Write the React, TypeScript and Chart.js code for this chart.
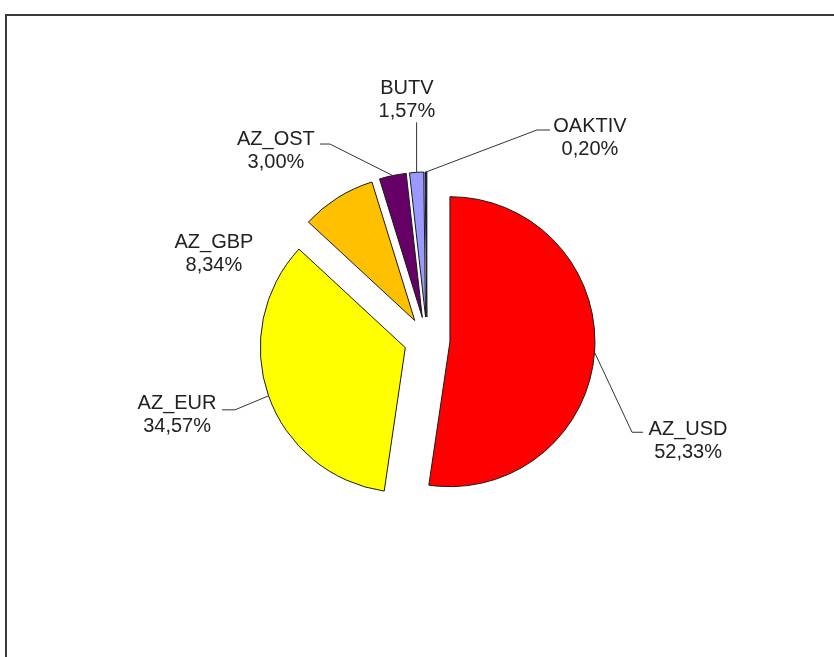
import React, { useEffect, useRef } from 'react';
import { Chart, registerables } from 'chart.js';

Chart.register(...registerables);

// ---- data ----
const categories = ['AZ_USD', 'AZ_EUR', 'AZ_GBP', 'AZ_OST', 'BUTV', 'OAKTIV'];
const shares = [52.33, 34.57, 8.34, 3.0, 1.57, 0.2];
const sliceColors = ['#FF0000', '#FFFF00', '#FFC000', '#660066', '#9999FF', '#000080'];

// ---- geometry / style ----
const RADIUS = 145;
const EXPLODE = 23; // px each slice is pulled out
const FONT = '20px "Liberation Sans", Arial, sans-serif';
const LINE_H = 23;

// label placement relative to each slice's outer mid-point: text centre x, first baseline y,
// and leader-line points (empty = no leader)
const labelLayout: { tx: number; ty: number; leader: number[][] }[] = [
  { tx: 93.5, ty: 83, leader: [[37.5, 80], [48.5, 80]] },
  { tx: -91.5, ty: 13, leader: [[-33.5, 14], [-46.5, 14]] },
  { tx: -123.6, ty: 50, leader: [] },
  { tx: -116.8, ty: -30.5, leader: [[-62.8, -31.5], [-72.8, -31.5]] },
  { tx: -9.7, ty: -78.5, leader: [[0, -50]] },
  { tx: 164, ty: -40, leader: [[111, -42], [124, -42]] },
];

const fmt = (v: number) => v.toFixed(2).replace('.', ',') + '%';

// Keep every exploded slice at the same radius and full angular width
// (Chart.js grows the radius and trims the angle of offset arcs).
const explodeFix = {
  id: 'explodeFix',
  afterDatasetsUpdate(chart: any) {
    const meta = chart.getDatasetMeta(0);
    meta.data.forEach((arc: any) => {
      const fix = 1 - Math.sin(Math.min(Math.PI, arc.circumference || 0));
      const radiusOffset = EXPLODE * fix;
      arc.outerRadius = RADIUS - radiusOffset;
      const trim = radiusOffset / (2 * Math.PI * RADIUS);
      arc.startAngle = arc.startAngle - trim;
      arc.endAngle = arc.endAngle + trim;
    });
  },
};

const pieLabels = {
  id: 'pieLabels',
  afterDatasetsDraw(chart: any) {
    const ctx = chart.ctx as CanvasRenderingContext2D;
    const meta = chart.getDatasetMeta(0);
    ctx.save();
    ctx.font = FONT;
    ctx.textAlign = 'center';
    ctx.textBaseline = 'alphabetic';
    meta.data.forEach((arc: any, i: number) => {
      const mid = (arc.startAngle + arc.endAngle) / 2;
      const ax = arc.x + Math.cos(mid) * (RADIUS + EXPLODE);
      const ay = arc.y + Math.sin(mid) * (RADIUS + EXPLODE);
      const lay = labelLayout[i];
      if (lay.leader.length) {
        ctx.strokeStyle = '#333333';
        ctx.lineWidth = 1;
        ctx.beginPath();
        ctx.moveTo(ax, ay);
        lay.leader.forEach((p) => ctx.lineTo(ax + p[0], ay + p[1]));
        ctx.stroke();
      }
      ctx.fillStyle = '#222222';
      ctx.fillText(categories[i], ax + lay.tx, ay + lay.ty);
      ctx.fillText(fmt(shares[i]), ax + lay.tx, ay + lay.ty + LINE_H);
    });
    ctx.restore();
  },
};

export default function App() {
  const ref = useRef<HTMLCanvasElement | null>(null);
  useEffect(() => {
    if (!ref.current) return;
    const chart = new Chart(ref.current, {
      type: 'pie',
      data: {
        labels: categories,
        datasets: [
          {
            data: shares,
            backgroundColor: sliceColors,
            borderColor: '#1a1a1a',
            borderWidth: 1,
            offset: EXPLODE * 4,
            hoverOffset: 0,
          },
        ],
      },
      options: {
        responsive: false,
        animation: false,
        devicePixelRatio: 1,
        radius: RADIUS,
        layout: { padding: { left: 20, top: 23, right: 0, bottom: 0 } },
        plugins: { legend: { display: false }, tooltip: { enabled: false } },
      } as any,
      plugins: [explodeFix, pieLabels],
    });
    return () => chart.destroy();
  }, []);
  return (
    <div style={{ position: 'absolute', left: 0, top: 0, width: 834, height: 657, overflow: 'hidden', background: '#fff' }}>
      <div
        style={{
          position: 'absolute',
          left: 5,
          top: 14,
          width: 900,
          height: 700,
          borderLeft: '2px solid #3a3a3a',
          borderTop: '2px solid #3a3a3a',
        }}
      />
      <canvas ref={ref} width={834} height={657} style={{ position: 'absolute', left: 0, top: 0, display: 'block' }} />
    </div>
  );
}
